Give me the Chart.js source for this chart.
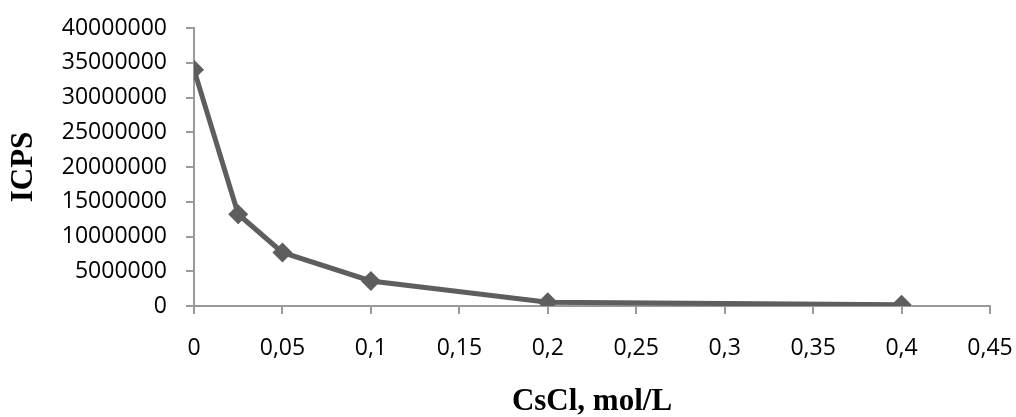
<!DOCTYPE html>
<html>
<head>
<meta charset="utf-8">
<script src="https://cdn.jsdelivr.net/npm/chart.js@4/dist/chart.umd.min.js"></script>
<style>
  html, body { margin: 0; padding: 0; background: #fff; }
  #wrap { width: 1016px; height: 417px; }
</style>
</head>
<body>
<div id="wrap"><canvas id="c" width="1016" height="417"></canvas></div>
<script>
// CsCl concentration (mol/L) and measured intensity (ICPS)
const concentrations = [0, 0.025, 0.05, 0.1, 0.2, 0.4];
const icps = [34000000, 13200000, 7700000, 3600000, 530000, 190000];

const xTitle = 'CsCl, mol/L';
const yTitle = 'ICPS';
const xMin = 0, xMax = 0.45, xStep = 0.05;
const yMin = 0, yMax = 40000000, yStep = 5000000;

const points = concentrations.map((x, i) => ({ x: x, y: icps[i] }));

const axisGray = '#9a9a9a';
const tickFont = { family: 'Open Sans', size: 23 };
const titleFont = { family: 'Liberation Serif', size: 31, weight: 'bold', lineHeight: 1 };

new Chart(document.getElementById('c'), {
  type: 'line',
  data: {
    datasets: [{
      data: points,
      borderColor: '#5e5e5e',
      backgroundColor: '#5e5e5e',
      borderWidth: 5,
      pointStyle: 'rectRot',
      pointRadius: 10,
      pointHoverRadius: 10,
      pointBorderWidth: 0,
      tension: 0,
      fill: false
    }]
  },
  options: {
    responsive: false,
    animation: false,
    devicePixelRatio: 1,
    layout: { padding: { top: 28, right: 26, bottom: 0, left: 0 } },
    plugins: { legend: { display: false }, tooltip: { enabled: false } },
    scales: {
      x: {
        type: 'linear',
        min: xMin, max: xMax,
        afterFit: s => { s.height = 111; s.paddingLeft = 0; s.paddingRight = 0; },
        border: { display: true, color: axisGray, width: 2 },
        grid: { drawOnChartArea: false, drawTicks: true, tickLength: 8, color: axisGray, lineWidth: 2 },
        ticks: {
          stepSize: xStep,
          color: '#000',
          font: tickFont,
          padding: 21,
          maxRotation: 0,
          callback: v => String(Math.round(v * 100) / 100).replace('.', ',')
        },
        title: { display: true, text: xTitle, color: '#000', font: titleFont, padding: { top: 0, bottom: 0 } }
      },
      y: {
        type: 'linear',
        min: yMin, max: yMax,
        afterFit: s => { s.width = 194; s.paddingTop = 0; s.paddingBottom = 0; },
        border: { display: true, color: axisGray, width: 2 },
        grid: { drawOnChartArea: false, drawTicks: true, tickLength: 8, color: axisGray, lineWidth: 2 },
        ticks: {
          stepSize: yStep,
          color: '#000',
          font: tickFont,
          padding: 19,
          callback: v => String(v)
        },
        title: { display: true, text: yTitle, color: '#000', font: titleFont, padding: { top: 8.5, bottom: 0 } }
      }
    }
  }
});
</script>
</body>
</html>
